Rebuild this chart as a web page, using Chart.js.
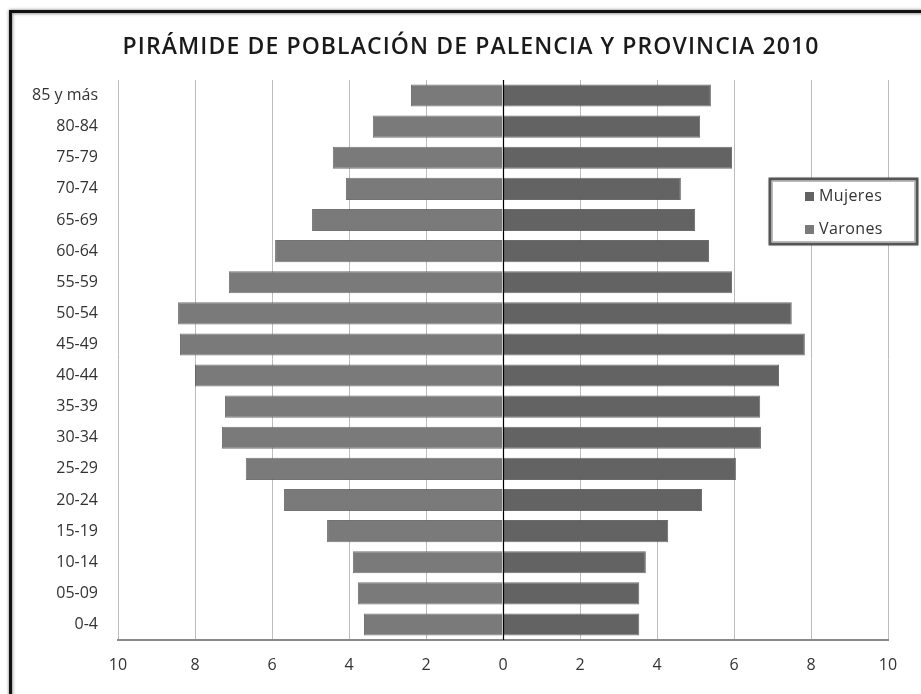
<!DOCTYPE html>
<html>
<head>
<meta charset="utf-8">
<script src="https://cdn.jsdelivr.net/npm/chart.js@4.4.1/dist/chart.umd.min.js"></script>
<style>
    html, body { margin: 0; padding: 0; background: #fff; overflow: hidden; }
    #frame {
        position: absolute; left: 9px; top: 10px; width: 1000px; height: 800px;
        border-left: 3px solid #111; border-top: 3px solid #111;
        box-shadow: 0 0 3px #777, inset 1px 1px 3px #999;
    }
    #pyramid { position: absolute; left: 0; top: 0; }
</style>
</head>
<body>
<div id="frame"></div>
<canvas id="pyramid" width="921" height="694"></canvas>
<script>
const categories = ['85 y más', '80-84', '75-79', '70-74', '65-69', '60-64', '55-59', '50-54', '45-49',
    '40-44', '35-39', '30-34', '25-29', '20-24', '15-19', '10-14', '05-09', '0-4'];
const mujeres = [5.40, 5.12, 5.95, 4.62, 4.99, 5.35, 5.95, 7.50, 7.84, 7.17, 6.68, 6.70, 6.05, 5.17, 4.29, 3.71, 3.54, 3.54];
const varones = [2.39, 3.38, 4.42, 4.08, 4.96, 5.92, 7.12, 8.44, 8.39, 8.00, 7.22, 7.30, 6.68, 5.69, 4.57, 3.90, 3.77, 3.61];
const xMin = -10;
const xMax = 10;
const xStep = 2;
const titleText = 'PIRÁMIDE DE POBLACIÓN DE PALENCIA Y PROVINCIA 2010';

const fontName = '"Open Sans"';

// title sits a bit right of the canvas centre, so it is placed by hand
const titleDraw = {
    id: 'titleDraw',
    afterDraw(chart) {
        const ctx = chart.ctx;
        ctx.save();
        ctx.font = '600 23px ' + fontName;
        ctx.letterSpacing = '1.1px';
        ctx.fillStyle = '#1a1a1a';
        ctx.textAlign = 'center';
        ctx.textBaseline = 'middle';
        ctx.fillText(titleText, 471, 47);
        ctx.restore();
    }
};

// black line at zero drawn over the bars
const zeroLine = {
    id: 'zeroLine',
    afterDatasetsDraw(chart) {
        const ctx = chart.ctx;
        const area = chart.chartArea;
        const x = Math.round(chart.scales.x.getPixelForValue(0)) + 0.5;
        ctx.save();
        ctx.strokeStyle = '#000';
        ctx.lineWidth = 1.2;
        ctx.beginPath();
        ctx.moveTo(x, area.top);
        ctx.lineTo(x, area.bottom);
        ctx.stroke();
        ctx.restore();
    }
};

// legend box floating at the right, like the spreadsheet one
const boxLegend = {
    id: 'boxLegend',
    afterDraw(chart) {
        const ctx = chart.ctx;
        const left = 770, top = 179, w = 147, h = 65;
        ctx.save();
        ctx.fillStyle = '#fff';
        ctx.shadowColor = 'rgba(0,0,0,0.45)';
        ctx.shadowBlur = 3;
        ctx.fillRect(left, top, w, h);
        ctx.shadowBlur = 0;
        ctx.strokeStyle = '#555';
        ctx.lineWidth = 3;
        ctx.strokeRect(left, top, w, h);
        ctx.strokeStyle = '#bbb';
        ctx.lineWidth = 1;
        ctx.strokeRect(left + 2.5, top + 2.5, w - 5, h - 5);

        ctx.font = '16px ' + fontName;
        ctx.letterSpacing = '0.4px';
        ctx.textBaseline = 'middle';
        chart.data.datasets.forEach((ds, i) => {
            const y = top + 17 + i * 33;
            ctx.fillStyle = ds.backgroundColor;
            ctx.fillRect(left + 35, y - 4, 9, 9);
            ctx.fillStyle = '#333';
            ctx.fillText(ds.label, left + 49, y);
        });
        ctx.restore();
    }
};

function renderPyramid() {
    const ctx = document.getElementById('pyramid').getContext('2d');
    new Chart(ctx, {
        type: 'bar',
        data: {
            labels: categories,
            datasets: [{
                label: 'Mujeres',
                backgroundColor: '#636363',
                borderColor: 'rgba(70,70,70,0.8)',
                borderWidth: 1,
                data: mujeres
            }, {
                label: 'Varones',
                backgroundColor: '#7a7a7a',
                borderColor: 'rgba(80,80,80,0.8)',
                borderWidth: 1,
                data: varones.map(v => -v)
            }]
        },
        options: {
            indexAxis: 'y',
            responsive: false,
            animation: false,
            devicePixelRatio: 1,
            categoryPercentage: 1,
            barPercentage: 0.71,
            layout: { padding: { left: 0, right: 33, top: 80, bottom: 0 } },
            plugins: {
                legend: { display: false },
                tooltip: { enabled: false },
                title: { display: false }
            },
            scales: {
                x: {
                    stacked: true,
                    min: xMin,
                    max: xMax,
                    afterFit: s => { s.height = 54; },
                    ticks: {
                        stepSize: xStep,
                        padding: 16,
                        color: '#333',
                        font: { family: fontName, size: 16 },
                        callback: v => Math.abs(v)
                    },
                    grid: { color: '#bdbdbd', lineWidth: 1, drawTicks: false },
                    border: { display: true, color: '#888', width: 2 }
                },
                y: {
                    stacked: true,
                    afterFit: s => { s.width = 118; },
                    ticks: {
                        padding: 20,
                        color: '#333',
                        font: { family: fontName, size: 16 }
                    },
                    grid: { display: false, drawTicks: false },
                    border: { display: false }
                }
            }
        },
        plugins: [zeroLine, boxLegend, titleDraw]
    });
}

renderPyramid();
</script>
</body>
</html>
